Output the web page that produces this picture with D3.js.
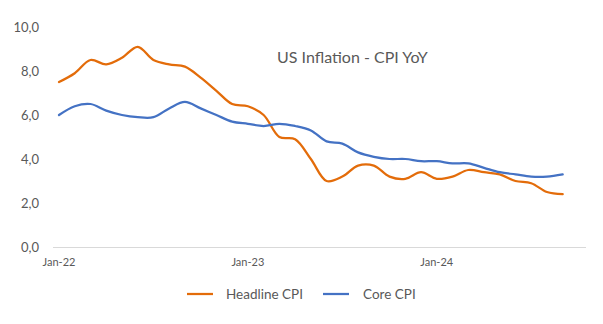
<!DOCTYPE html>
<html><head><meta charset="utf-8">
<script src="https://cdn.jsdelivr.net/npm/d3@7"></script>
<style>body{margin:0;background:#fff}svg{display:block}text{font-family:Lato,"Open Sans",sans-serif;fill:#595959}</style>
</head><body><svg id="c" width="603" height="324"></svg>
<script>
const months = ["Jan-22","Feb-22","Mar-22","Apr-22","May-22","Jun-22","Jul-22","Aug-22","Sep-22","Oct-22","Nov-22","Dec-22",
"Jan-23","Feb-23","Mar-23","Apr-23","May-23","Jun-23","Jul-23","Aug-23","Sep-23","Oct-23","Nov-23","Dec-23",
"Jan-24","Feb-24","Mar-24","Apr-24","May-24","Jun-24","Jul-24","Aug-24","Sep-24"];
const headline = [7.5,7.9,8.5,8.3,8.6,9.1,8.5,8.3,8.2,7.7,7.1,6.5,6.4,6.0,5.0,4.9,4.0,3.0,3.2,3.7,3.7,3.2,3.1,3.4,3.1,3.2,3.5,3.4,3.3,3.0,2.9,2.5,2.4];
const core = [6.0,6.4,6.5,6.2,6.0,5.9,5.9,6.3,6.6,6.3,6.0,5.7,5.6,5.5,5.6,5.5,5.3,4.8,4.7,4.3,4.1,4.0,4.0,3.9,3.9,3.8,3.8,3.6,3.4,3.3,3.2,3.2,3.3];
const xTicks = ["Jan-22","Jan-23","Jan-24"];
const yTicks = [0,2,4,6,8,10];
const title = "US Inflation - CPI YoY";
const seriesNames = ["Headline CPI","Core CPI"];
const colors = ["#E36C0A","#4472C4"];

const svg = d3.select("#c");
const x = d3.scalePoint().domain(months).range([59,562.7]);
const y = d3.scaleLinear().domain([0,10]).range([247,27]);

svg.append("g").selectAll("text").data(yTicks).join("text")
  .attr("x",39).attr("y",d=>y(d)).attr("dy","0.35em").attr("text-anchor","end")
  .style("font-size","13px").text(d=>d3.format(".1f")(d).replace(".",","));

svg.append("line").attr("x1",53).attr("x2",586).attr("y1",y(0)+0.5).attr("y2",y(0)+0.5)
  .attr("stroke","#d9d9d9").attr("stroke-width",1);

svg.append("g").selectAll("text").data(xTicks).join("text")
  .attr("x",d=>x(d)).attr("y",262).attr("dy","0.35em").attr("text-anchor","middle")
  .style("font-size","11px").text(d=>d);

const line = d3.line().x((d,i)=>x(months[i])).y(d=>y(d)).curve(d3.curveCatmullRom.alpha(0.5));
[headline, core].forEach((s,k)=>{
  svg.append("path").datum(s).attr("d",line).attr("fill","none")
    .attr("stroke",colors[k]).attr("stroke-width",2.25).attr("stroke-linejoin","round").attr("stroke-linecap","round");
});

svg.append("text").attr("x",277).attr("y",57).attr("dy","0.35em").style("font-size","16px").text(title);

const lg = [{x:187,tx:226},{x:323,tx:363}];
seriesNames.forEach((n,k)=>{
  svg.append("line").attr("x1",lg[k].x).attr("x2",lg[k].x+26).attr("y1",294).attr("y2",294)
    .attr("stroke",colors[k]).attr("stroke-width",2.25);
  svg.append("text").attr("x",lg[k].tx).attr("y",294).attr("dy","0.35em").style("font-size","13.5px").text(n);
});
</script></body></html>
